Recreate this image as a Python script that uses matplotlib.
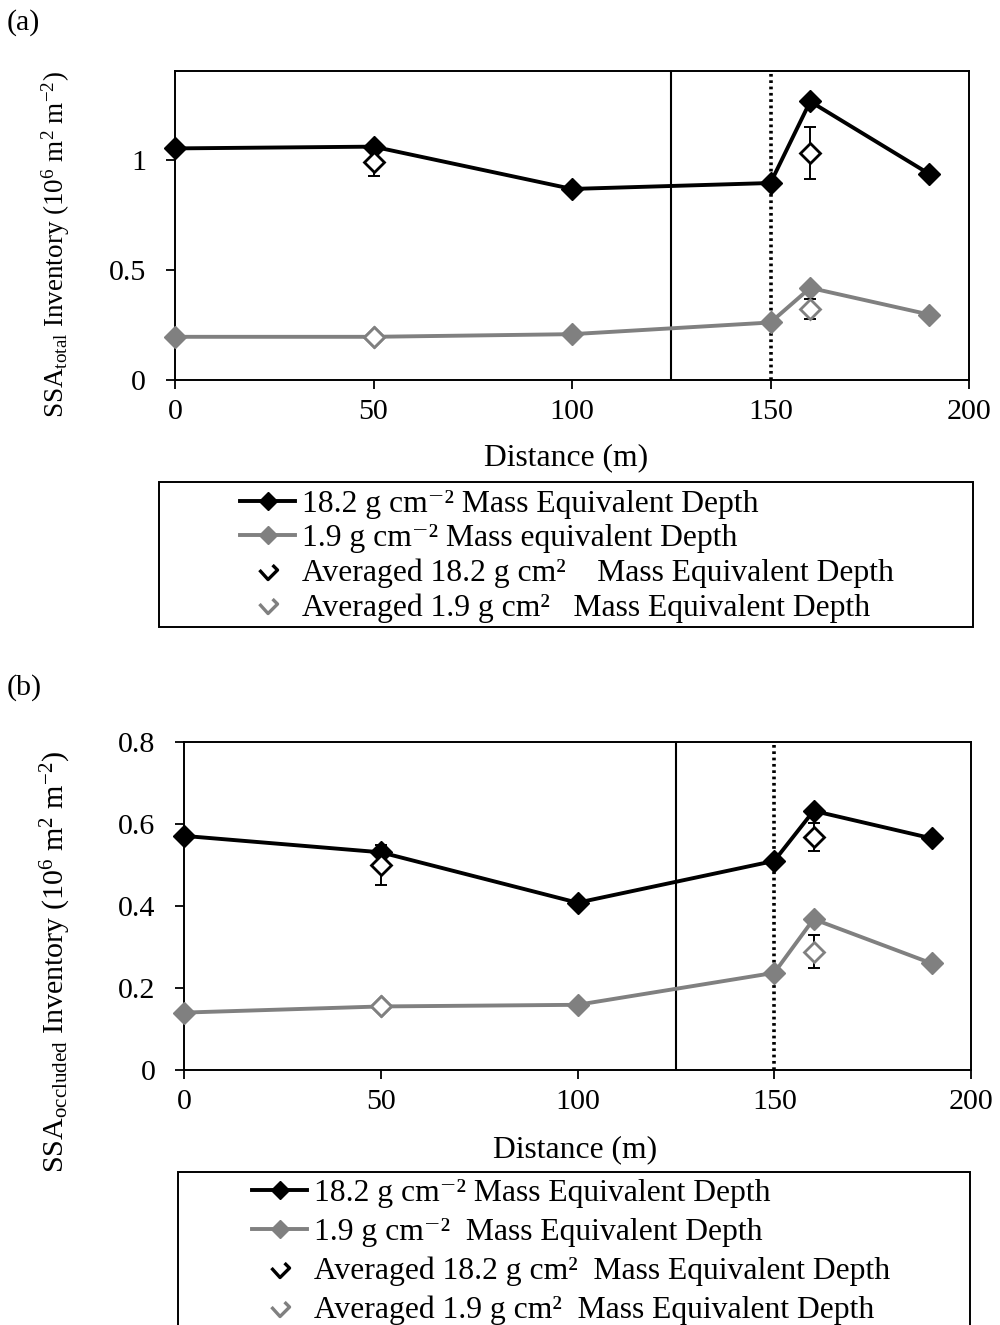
import matplotlib
matplotlib.use("Agg")
import matplotlib.pyplot as plt
from matplotlib.lines import Line2D
from matplotlib.patches import Rectangle
from matplotlib.path import Path

plt.rcParams["font.family"] = ["Liberation Serif", "DejaVu Serif"]
plt.rcParams["mathtext.fontset"] = "custom"
plt.rcParams["mathtext.rm"] = "Liberation Serif"
plt.rcParams["mathtext.it"] = "Liberation Serif:italic"
plt.rcParams["mathtext.bf"] = "Liberation Serif:bold"
plt.rcParams["mathtext.default"] = "regular"

# ---- data ----
distance = [0, 50, 100, 150, 160, 190]
avg_distance = [50, 160]

# (a) SSA total
a_deep = [1.051, 1.059, 0.867, 0.894, 1.264, 0.935]
a_shallow = [0.196, 0.196, 0.208, 0.261, 0.418, 0.297]
a_avg_deep = [0.988, 1.029]
a_avg_deep_err = [0.063, 0.117]
a_avg_shallow = [0.196, 0.324]
a_avg_shallow_err = [0.0, 0.045]

# (b) SSA occluded
b_deep = [0.571, 0.531, 0.408, 0.510, 0.632, 0.565]
b_shallow = [0.140, 0.155, 0.159, 0.237, 0.368, 0.260]
b_avg_deep = [0.500, 0.568]
b_avg_deep_err = [0.049, 0.035]
b_avg_shallow = [0.155, 0.289]
b_avg_shallow_err = [0.0, 0.040]

x_ticks = [0, 50, 100, 150, 200]
a_yticks = [0, 0.5, 1]
a_yticklabels = ["0", "0.5", "1"]
b_yticks = [0, 0.2, 0.4, 0.6, 0.8]
b_yticklabels = ["0", "0.2", "0.4", "0.6", "0.8"]

a_labels = ["18.2 g cm\u207b\u00b2 Mass Equivalent Depth",
            "1.9 g cm\u207b\u00b2 Mass equivalent Depth",
            "Averaged 18.2 g cm\u00b2    Mass Equivalent Depth",
            "Averaged 1.9 g cm\u00b2   Mass Equivalent Depth"]
b_labels = ["18.2 g cm\u207b\u00b2 Mass Equivalent Depth",
            "1.9 g cm\u207b\u00b2  Mass Equivalent Depth",
            "Averaged 18.2 g cm\u00b2  Mass Equivalent Depth",
            "Averaged 1.9 g cm\u00b2  Mass Equivalent Depth"]

GREY = "#808080"
FS = 21.6
LFS = 22.8
W, H = 1000, 1325

fig = plt.figure(figsize=(W / 100, H / 100), dpi=100)


def box(l, t, r, b):
    return [l / W, 1 - b / H, (r - l) / W, (b - t) / H]


def fpt(x, y):
    return x / W, 1 - y / H


def panel(ax, deep, shallow, avg_deep, avg_deep_err, avg_sh, avg_sh_err,
          ylim, yticks, yticklabels):
    ax.axvline(125, color="black", lw=1.5, zorder=2)
    ax.axvline(150, color="black", lw=2.6, ls=(0, (0.75, 1.0)), zorder=2)
    ax.plot(distance, deep, color="black", lw=2.8, marker="D", ms=11,
            mfc="black", mec="black", zorder=3, clip_on=False)
    ax.plot(distance, shallow, color=GREY, lw=2.8, marker="D", ms=11,
            mfc=GREY, mec=GREY, zorder=3, clip_on=False)
    for vals, errs, col in [(avg_deep, avg_deep_err, "black"),
                            (avg_sh, avg_sh_err, GREY)]:
        xe = [x for x, e in zip(avg_distance, errs) if e > 0]
        ye = [v for v, e in zip(vals, errs) if e > 0]
        ee = [e for e in errs if e > 0]
        ax.errorbar(xe, ye, yerr=ee, fmt="none", ecolor="black",
                    elinewidth=1.4, capsize=4.5, capthick=1.4, zorder=4)
        ax.plot(avg_distance, vals, ls="none", marker="D", ms=10.5,
                mfc="white", mec=col, mew=2.0, zorder=5)
    ax.set_xlim(0, 200)
    ax.set_ylim(*ylim)
    ax.set_xticks(x_ticks)
    ax.set_yticks(yticks)
    ax.set_yticklabels(yticklabels)
    ax.tick_params(axis="both", direction="out", length=6.7, width=1.3,
                   labelsize=FS)
    ax.tick_params(axis="x", pad=7)
    ax.tick_params(axis="y", pad=14)
    for s in ax.spines.values():
        s.set_linewidth(1.4)


chevron = Path([(-1, 0.05), (-0.05, -1), (1, 0.05), (0.45, 0.6)],
               [Path.MOVETO, Path.LINETO, Path.LINETO, Path.LINETO])


def legend_handles():
    return [
        Line2D([], [], color="black", lw=2.8, marker="D", ms=9,
               mfc="black", mec="black"),
        Line2D([], [], color=GREY, lw=2.8, marker="D", ms=9,
               mfc=GREY, mec=GREY),
        Line2D([], [], ls="none", marker=chevron, ms=13, mfc="none",
               mec="black", mew=2.4),
        Line2D([], [], ls="none", marker=chevron, ms=13, mfc="none",
               mec=GREY, mew=2.4),
    ]


# ---- panel (a) ----
ax1 = fig.add_axes(box(175, 71.5, 969, 380))
panel(ax1, a_deep, a_shallow, a_avg_deep, a_avg_deep_err,
      a_avg_shallow, a_avg_shallow_err, (0, 1.4), a_yticks, a_yticklabels)
fig.text(*fpt(7, 23), "(a)", fontsize=FS, ha="left", va="center")
fig.text(*fpt(566, 458), "Distance (m)", fontsize=22.8, ha="center", va="center")
fig.text(*fpt(56, 245), r"SSA$_{total}$ Inventory (10$^{6}$ m$^{2}$ m$^{-2}$)",
         fontsize=19.5, rotation=90, ha="center", va="center")
fig.add_artist(Rectangle(fpt(159, 627), 813.5 / W, 145 / H, fill=False,
                         lw=1.4, ec="black", transform=fig.transFigure))
fig.legend(legend_handles(), a_labels, loc="upper left",
           bbox_to_anchor=fpt(240, 490), frameon=False, fontsize=LFS,
           borderpad=0, borderaxespad=0, handlelength=1.75,
           handletextpad=0.2, labelspacing=0.16)

# ---- panel (b) ----
ax2 = fig.add_axes(box(184, 742, 971, 1070))
panel(ax2, b_deep, b_shallow, b_avg_deep, b_avg_deep_err,
      b_avg_shallow, b_avg_shallow_err, (0, 0.8), b_yticks, b_yticklabels)
fig.text(*fpt(7, 688), "(b)", fontsize=FS, ha="left", va="center")
fig.text(*fpt(575, 1150), "Distance (m)", fontsize=22.8, ha="center", va="center")
fig.text(*fpt(56, 962), r"SSA$_{occluded}$ Inventory (10$^{6}$ m$^{2}$ m$^{-2}$)",
         fontsize=FS, rotation=90, ha="center", va="center")
fig.add_artist(Rectangle(fpt(177.5, 1340), 792 / W, 168 / H, fill=False,
                         lw=1.4, ec="black", transform=fig.transFigure))
fig.legend(legend_handles(), b_labels, loc="upper left",
           bbox_to_anchor=fpt(252, 1179), frameon=False, fontsize=LFS,
           borderpad=0, borderaxespad=0, handlelength=1.75,
           handletextpad=0.2, labelspacing=0.3)

fig.savefig("out.png", dpi=100)
